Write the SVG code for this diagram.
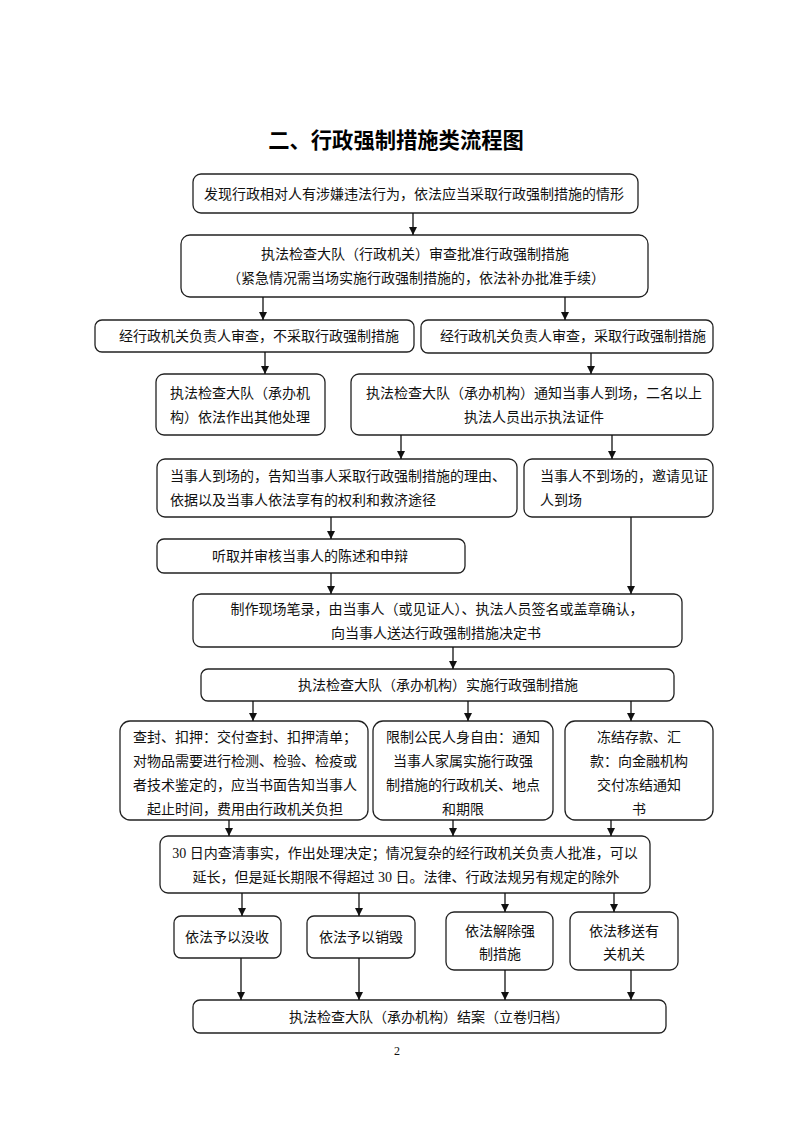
<svg xmlns="http://www.w3.org/2000/svg" width="793" height="1122" viewBox="0 0 793 1122">
<style>
.b{fill:#fff;stroke:#222;stroke-width:1.3}
.t{font-family:"Liberation Serif","Noto Sans CJK SC",serif;font-size:14px;fill:#111}
.m{text-anchor:middle}
.c{stroke:#111;stroke-width:1.3;fill:none;marker-end:url(#ah)}
.title{font-family:"Noto Sans CJK SC",sans-serif;font-size:21.3px;font-weight:bold;fill:#000;text-anchor:middle}
</style>
<defs>
<marker id="ah" markerUnits="userSpaceOnUse" markerWidth="9" markerHeight="10" refX="8" refY="4" orient="auto">
<path d="M0,0 L8,4 L0,8 z" fill="#111"/>
</marker>
</defs>
<rect width="793" height="1122" fill="#fff"/>
<text class="title" x="396" y="148">二、行政强制措施类流程图</text>

<g id="n1"><rect class="b" x="193" y="174" width="445" height="39" rx="8"/>
<text class="t m" x="414" y="199">发现行政相对人有涉嫌违法行为，依法应当采取行政强制措施的情形</text></g>

<g id="n2"><rect class="b" x="181" y="235" width="467" height="62" rx="9"/>
<text class="t m" x="415" y="259">执法检查大队（行政机关）审查批准行政强制措施</text>
<text class="t m" x="416" y="283">（紧急情况需当场实施行政强制措施的，依法补办批准手续）</text></g>

<g id="n3a"><rect class="b" x="95" y="320" width="319" height="32" rx="7"/>
<text class="t m" x="259" y="341">经行政机关负责人审查，不采取行政强制措施</text></g>

<g id="n3b"><rect class="b" x="421" y="320" width="292" height="33" rx="7"/>
<text class="t m" x="573" y="341">经行政机关负责人审查，采取行政强制措施</text></g>

<g id="n4a"><rect class="b" x="156" y="374" width="169" height="61" rx="8"/>
<text class="t" x="170" y="398">执法检查大队（承办机</text>
<text class="t" x="170" y="422">构）依法作出其他处理</text></g>

<g id="n4b"><rect class="b" x="351" y="374" width="362" height="61" rx="8"/>
<text class="t m" x="534" y="398">执法检查大队（承办机构）通知当事人到场，二名以上</text>
<text class="t m" x="534" y="422">执法人员出示执法证件</text></g>

<g id="n5a"><rect class="b" x="157" y="459" width="360" height="58" rx="8"/>
<text class="t" x="170" y="481">当事人到场的，告知当事人采取行政强制措施的理由、</text>
<text class="t" x="170" y="505">依据以及当事人依法享有的权利和救济途径</text></g>

<g id="n5b"><rect class="b" x="524" y="459" width="189" height="58" rx="8"/>
<text class="t" x="540" y="481">当事人不到场的，邀请见证</text>
<text class="t" x="540" y="505">人到场</text></g>

<g id="n6"><rect class="b" x="157" y="539" width="308" height="34" rx="7"/>
<text class="t m" x="310" y="561">听取并审核当事人的陈述和申辩</text></g>

<g id="n7"><rect class="b" x="193" y="594" width="489" height="53" rx="8"/>
<text class="t m" x="437" y="614">制作现场笔录，由当事人（或见证人）、执法人员签名或盖章确认，</text>
<text class="t m" x="436" y="638">向当事人送达行政强制措施决定书</text></g>

<g id="n8"><rect class="b" x="201" y="669" width="473" height="32" rx="7"/>
<text class="t m" x="438" y="690">执法检查大队（承办机构）实施行政强制措施</text></g>

<g id="n9a"><rect class="b" x="120" y="721" width="248" height="99" rx="10"/>
<text class="t m" x="245" y="742">查封、扣押：交付查封、扣押清单；</text>
<text class="t m" x="245" y="766">对物品需要进行检测、检验、检疫或</text>
<text class="t m" x="245" y="790">者技术鉴定的，应当书面告知当事人</text>
<text class="t m" x="245" y="814">起止时间，费用由行政机关负担</text></g>

<g id="n9b"><rect class="b" x="373" y="721" width="180" height="99" rx="10"/>
<text class="t m" x="463" y="742">限制公民人身自由：通知</text>
<text class="t m" x="463" y="766">当事人家属实施行政强</text>
<text class="t m" x="463" y="790">制措施的行政机关、地点</text>
<text class="t m" x="463" y="814">和期限</text></g>

<g id="n9c"><rect class="b" x="565" y="721" width="148" height="99" rx="10"/>
<text class="t m" x="639" y="742">冻结存款、汇</text>
<text class="t m" x="639" y="766">款：向金融机构</text>
<text class="t m" x="639" y="790">交付冻结通知</text>
<text class="t m" x="639" y="814">书</text></g>

<g id="n10"><rect class="b" x="160" y="836" width="490" height="57" rx="8"/>
<text class="t m" x="405" y="858">30 日内查清事实，作出处理决定；情况复杂的经行政机关负责人批准，可以</text>
<text class="t m" x="406" y="882">延长，但是延长期限不得超过 30 日。法律、行政法规另有规定的除外</text></g>

<g id="n11a"><rect class="b" x="174" y="916" width="107" height="42" rx="7"/>
<text class="t m" x="227" y="942">依法予以没收</text></g>

<g id="n11b"><rect class="b" x="307" y="916" width="108" height="42" rx="7"/>
<text class="t m" x="361" y="942">依法予以销毁</text></g>

<g id="n11c"><rect class="b" x="446" y="912" width="107" height="58" rx="8"/>
<text class="t m" x="500" y="936">依法解除强</text>
<text class="t m" x="500" y="959">制措施</text></g>

<g id="n11d"><rect class="b" x="570" y="912" width="108" height="58" rx="8"/>
<text class="t m" x="624" y="936">依法移送有</text>
<text class="t m" x="624" y="959">关机关</text></g>

<g id="n12"><rect class="b" x="193" y="1000" width="473" height="33" rx="7"/>
<text class="t m" x="429" y="1022">执法检查大队（承办机构）结案（立卷归档）</text></g>

<text x="397" y="1055" style="font-family:'Liberation Serif',serif;font-size:12px;text-anchor:middle;fill:#111">2</text>

<g id="connectors">
<line class="c" x1="413" y1="213" x2="413" y2="235"/>
<line class="c" x1="263" y1="297" x2="263" y2="320"/>
<line class="c" x1="565" y1="297" x2="565" y2="320"/>
<line class="c" x1="265" y1="352" x2="265" y2="374"/>
<line class="c" x1="591" y1="353" x2="591" y2="374"/>
<line class="c" x1="401" y1="435" x2="401" y2="459"/>
<line class="c" x1="612" y1="435" x2="612" y2="459"/>
<line class="c" x1="331" y1="517" x2="331" y2="539"/>
<line class="c" x1="331" y1="573" x2="331" y2="594"/>
<line class="c" x1="631" y1="517" x2="631" y2="594"/>
<line class="c" x1="453" y1="647" x2="453" y2="669"/>
<line class="c" x1="253" y1="701" x2="253" y2="721"/>
<line class="c" x1="468" y1="701" x2="468" y2="721"/>
<line class="c" x1="631" y1="701" x2="631" y2="721"/>
<line class="c" x1="229" y1="820" x2="229" y2="836"/>
<line class="c" x1="453" y1="820" x2="453" y2="836"/>
<line class="c" x1="611" y1="820" x2="611" y2="836"/>
<line class="c" x1="242" y1="893" x2="242" y2="916"/>
<line class="c" x1="359" y1="893" x2="359" y2="916"/>
<line class="c" x1="505" y1="893" x2="505" y2="912"/>
<line class="c" x1="614" y1="893" x2="614" y2="912"/>
<line class="c" x1="241" y1="958" x2="241" y2="1000"/>
<line class="c" x1="359" y1="958" x2="359" y2="1000"/>
<line class="c" x1="505" y1="970" x2="505" y2="1000"/>
<line class="c" x1="631" y1="970" x2="631" y2="1000"/>
</g>
</svg>
